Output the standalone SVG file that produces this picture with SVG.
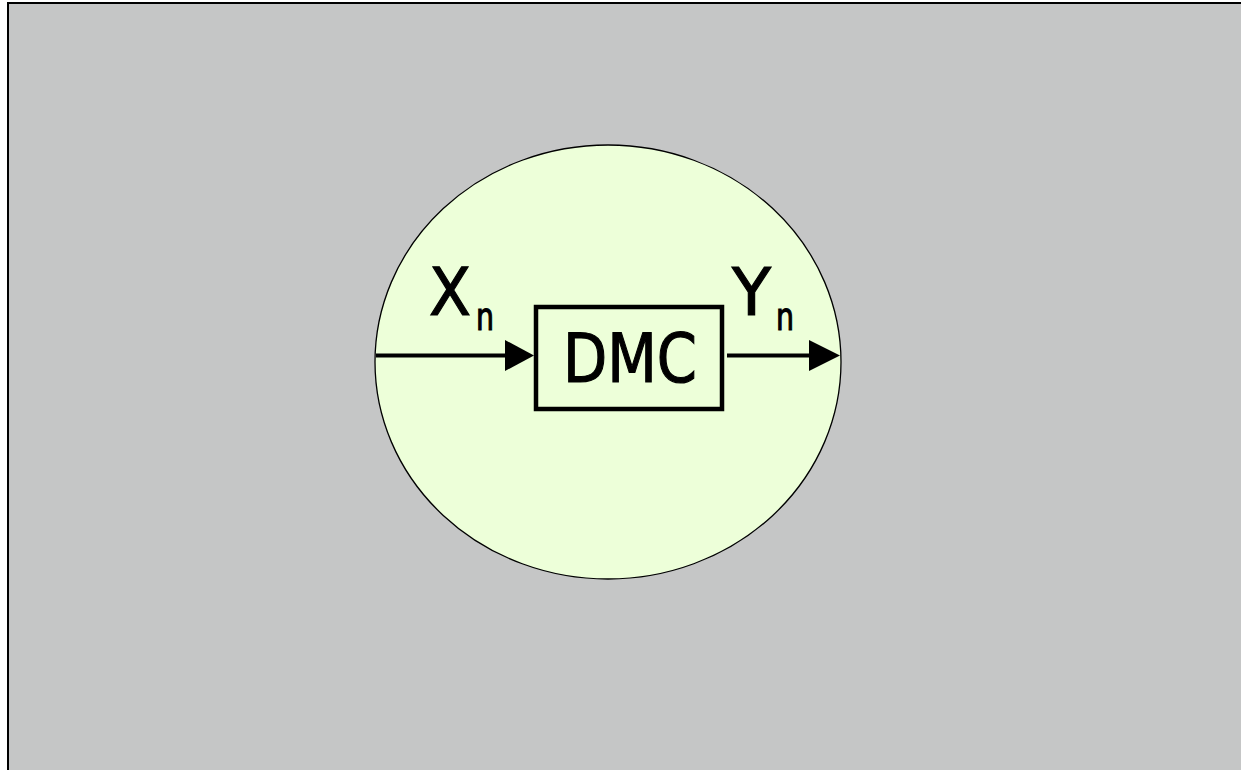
<svg xmlns="http://www.w3.org/2000/svg" width="1241" height="770" viewBox="0 0 1241 770">
  <defs>
    <style>
      .lbl { font-family: "Comic Sans MS", "DejaVu Sans", "Liberation Sans", sans-serif; fill: #000; stroke: #000; stroke-width: 1.2; }
      .wire { stroke: #000; stroke-width: 4; fill: none; }
    </style>
  </defs>
  <!-- page -->
  <rect x="0" y="0" width="1241" height="770" fill="#ffffff"/>
  <rect x="8" y="3" width="1245" height="780" fill="#c5c6c6" stroke="#000" stroke-width="2"/>

  <!-- channel region -->
  <g id="region">
    <ellipse cx="608" cy="362" rx="233" ry="217" fill="#edffd9" stroke="#000" stroke-width="1.3"/>
  </g>

  <!-- channel block -->
  <g id="dmc">
    <rect x="536" y="307" width="186" height="102" fill="#edffd9" stroke="#000" stroke-width="4.5"/>
    <text class="lbl" x="630" y="382" font-size="67" text-anchor="middle" textLength="134" lengthAdjust="spacingAndGlyphs">DMC</text>
  </g>

  <!-- input / output labels -->
  <g id="input-label">
    <text class="lbl" x="429" y="315" font-size="66" textLength="42" lengthAdjust="spacingAndGlyphs">X</text>
    <text class="lbl" x="476" y="330" font-size="38" textLength="18" lengthAdjust="spacingAndGlyphs">n</text>
  </g>
  <g id="output-label">
    <text class="lbl" x="732" y="315" font-size="66" textLength="39" lengthAdjust="spacingAndGlyphs">Y</text>
    <text class="lbl" x="776" y="330" font-size="38" textLength="18" lengthAdjust="spacingAndGlyphs">n</text>
  </g>

  <!-- connectors -->
  <g id="connectors">
    <line class="wire" x1="376" y1="355.5" x2="506" y2="355.5"/>
    <path d="M505,340 L534,355.5 L505,371 Z" fill="#000"/>
    <line class="wire" x1="727" y1="355.5" x2="810" y2="355.5"/>
    <path d="M809,340 L840,355.5 L809,371 Z" fill="#000"/>
  </g>
</svg>
